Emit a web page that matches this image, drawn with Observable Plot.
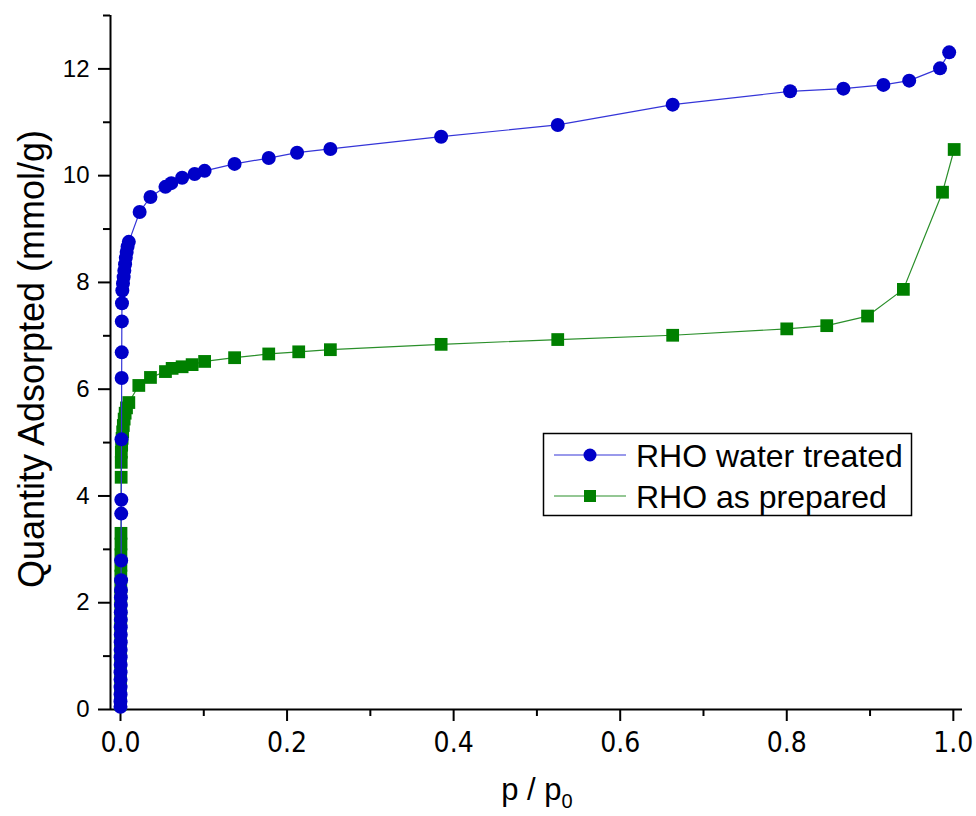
<!DOCTYPE html>
<html><head><meta charset="utf-8">
<script src="https://cdn.jsdelivr.net/npm/d3@7"></script>
<script src="https://cdn.jsdelivr.net/npm/@observablehq/plot@0.6"></script>
<style>body{margin:0;background:#fff}</style>
</head><body><div id="chart"></div>
<script>
// ---- data ----
const seriesNames = ["RHO water treated", "RHO as prepared"];
const waterX = [0.0000,0.0000,0.0001,0.0001,0.0001,0.0001,0.0002,0.0002,0.0002,0.0003,0.0003,0.0003,0.0004,0.0004,0.0005,0.0005,0.0006,
  0.0007,0.0008,0.0009,0.0010,0.0012,0.0014,0.0015,0.0016,0.0018,
  0.0022,0.0030,0.0038,0.0046,0.0055,0.0064,0.0074,0.0085,0.0100,
  0.023,0.036,0.054,0.061,0.074,0.089,0.101,0.137,0.178,0.212,0.252,
  0.385,0.525,0.663,0.804,0.868,0.916,0.947,0.984,0.995];
const waterY = [0.05,0.15,0.28,0.42,0.56,0.70,0.84,0.98,1.12,1.26,1.40,1.54,1.68,1.82,1.96,2.10,2.24,
  2.42,2.79,3.67,3.93,5.06,6.21,6.69,7.27,7.61,
  7.85,7.98,8.10,8.22,8.34,8.46,8.57,8.67,8.76,
  9.32,9.60,9.79,9.86,9.96,10.03,10.09,10.22,10.33,10.43,10.50,
  10.73,10.95,11.33,11.58,11.63,11.70,11.78,12.01,12.31];
const prepX = [0.0000,0.0000,0.0001,0.0001,0.0001,0.0002,0.0002,0.0002,0.0003,0.0003,0.0003,0.0004,0.0004,0.0005,0.0005,0.0006,0.0006,
  0.0008,0.0009,0.0010,0.0014,0.0019,0.0026,0.0034,0.0044,0.0056,0.0072,0.0100,
  0.022,0.036,0.054,0.062,0.074,0.086,0.101,0.137,0.178,0.214,0.252,
  0.385,0.525,0.663,0.800,0.848,0.897,0.940,0.987,1.001];
const prepY = [0.10,0.30,0.50,0.70,0.90,1.10,1.30,1.50,1.70,1.90,2.10,2.30,2.50,2.70,2.90,3.10,3.30,
  4.35,4.63,4.82,4.95,5.08,5.20,5.32,5.44,5.55,5.65,5.75,
  6.07,6.22,6.33,6.39,6.42,6.46,6.52,6.59,6.66,6.70,6.74,
  6.84,6.93,7.01,7.13,7.19,7.37,7.87,9.69,10.49];
const xMajorTicks = [0, 0.2, 0.4, 0.6, 0.8, 1.0];
const xMinorTicks = [0.1, 0.3, 0.5, 0.7, 0.9];
const yMajorTicks = [0, 2, 4, 6, 8, 10, 12];
const yMinorTicks = [1, 3, 5, 7, 9, 11, 13];
const xTitle = "p / p";
const xTitleSub = "0";
const yTitle = "Quantity Adsorpted (mmol/g)";

// ---- styles ----
const blueFill = "#0000c8", blueLine = "#3535d8";
const greenFill = "#008000", greenLine = "#2a8f2a";
const xDomain = [-0.012, 1.011], yDomain = [0, 13];

const water = waterX.map((x, i) => ({x, y: waterY[i]}));
const prep = prepX.map((x, i) => ({x, y: prepY[i]}));

const plot = Plot.plot({
  width: 976, height: 816,
  marginLeft: 110, marginRight: 14, marginTop: 15, marginBottom: 107,
  x: {domain: xDomain, label: null},
  y: {domain: yDomain, label: null},
  style: {fontFamily: "'Liberation Sans', Arial, sans-serif", background: "#fff", color: "#000"},
  marks: [
    Plot.axisX(xMinorTicks, {tickSize: 7, tickFormat: () => "", strokeWidth: 2, label: null}),
    Plot.axisX(xMajorTicks, {tickSize: 12, tickPadding: 11, tickFormat: d3.format(".1f"), fontSize: 28,
      fontFamily: "'Liberation Sans Narrow', 'Arial Narrow', 'DejaVu Sans Condensed', sans-serif", strokeWidth: 2, label: null}),
    Plot.axisY(yMinorTicks, {tickSize: 7, tickFormat: () => "", strokeWidth: 2, label: null}),
    Plot.axisY(yMajorTicks, {tickSize: 12, tickPadding: 9, tickFormat: d3.format("d"), fontSize: 24, strokeWidth: 2, label: null}),
    Plot.ruleX([xDomain[0]], {y1: yDomain[0], y2: yDomain[1], strokeWidth: 2, stroke: "#000"}),
    Plot.ruleY([0], {strokeWidth: 2, stroke: "#000"}),
    Plot.line(prep, {x: "x", y: "y", stroke: greenLine, strokeWidth: 1.2}),
    Plot.dot(prep, {x: "x", y: "y", symbol: "square", r: 7.2, fill: greenFill}),
    Plot.line(water, {x: "x", y: "y", stroke: blueLine, strokeWidth: 1.2}),
    Plot.dot(water, {x: "x", y: "y", r: 7, fill: blueFill})
  ]
});

const svg = d3.select(plot);

// y axis title
svg.append("text")
  .attr("transform", "translate(44,359) rotate(-90)")
  .attr("text-anchor", "middle")
  .attr("font-size", 36)
  .attr("fill", "#000")
  .text(yTitle);

// x axis title with subscript
const xt = svg.append("text")
  .attr("x", 537).attr("y", 800)
  .attr("text-anchor", "middle")
  .attr("font-size", 31)
  .attr("fill", "#000");
xt.append("tspan").text(xTitle);
xt.append("tspan").attr("font-size", 20).attr("dy", 8).text(xTitleSub);

// legend
const lg = svg.append("g").attr("text-anchor", "start");
lg.append("rect").attr("x", 543.5).attr("y", 433.5).attr("width", 368).attr("height", 82)
  .attr("fill", "#fff").attr("stroke", "#000").attr("stroke-width", 1.5);
const entries = [
  {name: seriesNames[0], line: blueLine, fill: blueFill, sym: "circle", cy: 455},
  {name: seriesNames[1], line: greenLine, fill: greenFill, sym: "square", cy: 496}
];
entries.forEach(e => {
  lg.append("line").attr("x1", 554).attr("x2", 626).attr("y1", e.cy).attr("y2", e.cy)
    .attr("stroke", e.line).attr("stroke-width", 1.2);
  if (e.sym === "circle") {
    lg.append("circle").attr("cx", 590).attr("cy", e.cy).attr("r", 6.5).attr("fill", e.fill);
  } else {
    lg.append("rect").attr("x", 584).attr("y", e.cy - 6).attr("width", 12).attr("height", 12).attr("fill", e.fill);
  }
  lg.append("text").attr("x", 636).attr("y", e.cy + 11.5).attr("text-anchor", "start")
    .attr("font-size", 32).attr("fill", "#000").text(e.name);
});

document.getElementById("chart").appendChild(plot);
</script>
</body></html>
